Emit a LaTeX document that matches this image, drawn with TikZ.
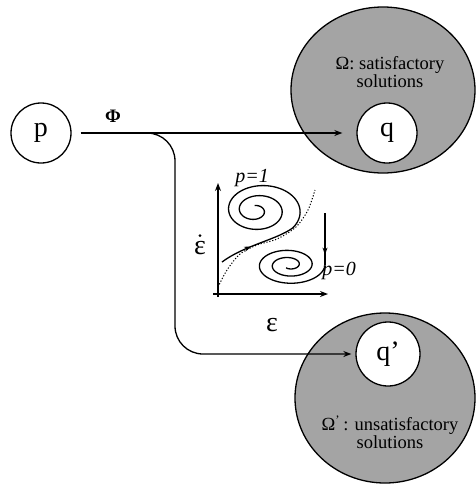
\documentclass[tikz,border=0pt]{standalone}
\usepackage{fontspec}
\setmainfont{Liberation Serif}
\usetikzlibrary{arrows.meta,shapes.geometric,decorations.markings,calc}
\definecolor{regiongray}{RGB}{164,164,164}
\begin{document}
\begin{tikzpicture}[x=1pt,y=-1pt,
  line width=1.3pt,
  tip/.style={-{Stealth[length=8pt,width=6pt]}},
  state/.style={circle,draw,fill=white,minimum size=60pt,inner sep=0pt,font=\fontsize{28}{30}\selectfont},
  region/.style={ellipse,draw,fill=regiongray,inner sep=0pt},
  lbl/.style={font=\fontsize{18.5}{16}\selectfont,align=center,inner sep=0pt},
  big/.style={font=\fontsize{28}{30}\selectfont,inner sep=0pt},
  pl/.style={font=\fontsize{20}{20}\selectfont\itshape,inner sep=0pt},
  midarrow/.style={postaction={decorate},decoration={markings,mark=at position #1 with {\arrow{Stealth[length=7pt,width=5pt]}}}}
]
\useasboundingbox (0,0) rectangle (476,485);
% regions
\node[region,minimum width=184pt,minimum height=166pt] (Om) at (383,90) {};
\node[region,minimum width=180pt,minimum height=170pt] (Omp) at (385,398) {};
% states
\node[state] (p) at (41,133) {p};
\node[state] (q) at (387,133) {q};
\node[state,minimum size=64pt] (qp) at (388,354) {q’};
% labels
\node[lbl] (OmL) at (390,72) {Ω: satisfactory\\solutions};
\node[lbl] (OmpL) at (390,432) {Ω\textsuperscript{’}\,: unsatisfactory\\solutions};
\node[font=\fontsize{19}{19}\selectfont\bfseries,inner sep=0pt] (phi) at (113,116) {Φ};
% connectors
\draw[tip,shorten <=9pt,shorten >=14pt] (p) -- (q);
\coordinate (br) at (143,133);
\draw[tip,rounded corners=28pt] (br) -- (175,133) -- (175,354) -- ([xshift=-4pt]qp.west);
% phase portrait axes
\draw[tip] (218,297) -- (218,183);
\draw[tip] (213,294) -- (328,294);
\node[big] (edot) at (200,248) {ε};
\fill ([yshift=5pt]edot.north) circle (1.6pt);
\node[big] (eps) at (272,325) {ε};
\node[pl] (p1) at (252,178) {p=1};
\node[pl] (p0) at (339,271) {p=0};
% separatrix
\draw[line width=1pt,dash pattern=on 1.2pt off 1.8pt] plot[smooth] coordinates {(218,287) (227,270) (240,254) (257,245) (277,239) (296,227) (308,210) (315,190)};
% upper spiral
\draw[midarrow=0.42] (222,262) .. controls (245,245) and (276,240) .. (292.64,228);
\draw plot[domain=-40:800,samples=240,smooth,variable=\t] ({252+(1-(\t+40)/1000)*(10+40*cos(\t))},{210-(1-(\t+40)/1000)*28*sin(\t)});
% lower spiral
\draw[midarrow=0.8] (325,213) -- (325,265);
\draw plot[domain=0:840,samples=240,smooth,variable=\t] ({289+(1-\t/1000)*36*cos(\t)},{265+(1-\t/1000)*20*sin(\t)});
\end{tikzpicture}
\end{document}
